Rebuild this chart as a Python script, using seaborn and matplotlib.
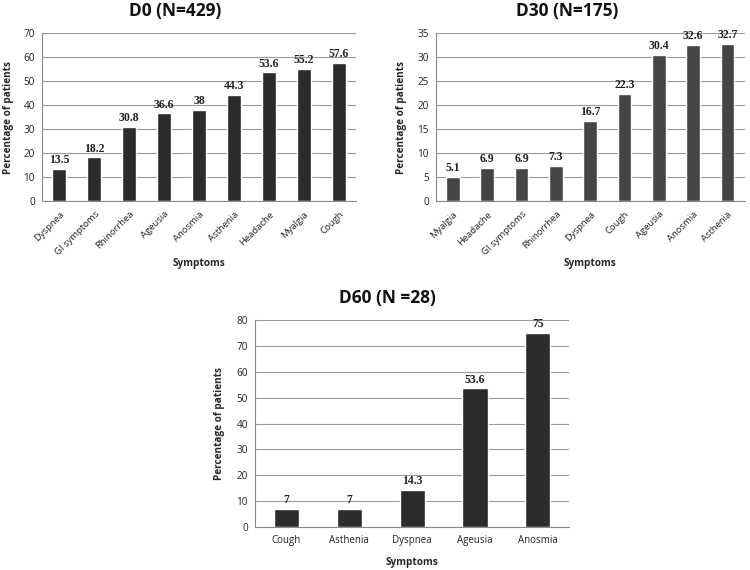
import matplotlib
matplotlib.use("Agg")
import matplotlib.pyplot as plt
import seaborn as sns
import numpy as np

# data
d0_symptoms = ["Dyspnea", "GI symptoms", "Rhinorrhea", "Ageusia", "Anosmia",
               "Asthenia", "Headache", "Myalgia", "Cough"]
d0_values = [13.5, 18.2, 30.8, 36.6, 38, 44.3, 53.6, 55.2, 57.6]

d30_symptoms = ["Myalgia", "Headache", "GI symptoms", "Rhinorrhea", "Dyspnea",
                "Cough", "Ageusia", "Anosmia", "Asthenia"]
d30_values = [5.1, 6.9, 6.9, 7.3, 16.7, 22.3, 30.4, 32.6, 32.7]

d60_symptoms = ["Cough", "Asthenia", "Dyspnea", "Ageusia", "Anosmia"]
d60_values = [7, 7, 14.3, 53.6, 75]

sns.set_style("white")
plt.rcParams['font.family'] = ['Open Sans', 'DejaVu Sans']

fig = plt.figure(figsize=(7.5, 5.7), dpi=100)


def draw_panel(rect, cats, vals, ymax, ystep, color, title, title_xy,
               ylab_x, xlab_y, rotate):
    ax = fig.add_axes(rect)
    sns.barplot(x=cats, y=vals, color=color, width=0.4, saturation=1, ax=ax)
    ax.set_xlim(-0.5, len(cats) - 0.5)
    ax.set_ylim(0, ymax)
    ax.set_yticks(np.arange(0, ymax + 0.1, ystep))
    ax.yaxis.grid(True, color="#9a9a9a", linewidth=0.8)
    ax.set_axisbelow(True)
    for s in ["top", "right"]:
        ax.spines[s].set_visible(False)
    for s in ["left", "bottom"]:
        ax.spines[s].set_color("#8a8a8a")
        ax.spines[s].set_linewidth(0.8)

    # excel-like tick marks between categories
    ax.set_xticks(np.arange(-0.5, len(cats), 1.0), minor=True)
    ax.tick_params(axis="x", which="minor", length=4, color="#8a8a8a", width=0.8)
    ax.tick_params(axis="x", which="major", length=0, labelsize=6.8 if rotate else 7,
                   labelcolor="#222222", pad=6)
    ax.tick_params(axis="y", length=3, color="#8a8a8a", width=0.8,
                   labelsize=7.2, labelcolor="#222222", pad=2)
    if rotate:
        plt.setp(ax.get_xticklabels(), rotation=45, ha="right",
                 rotation_mode="anchor")

    labels = ["{:g}".format(v) for v in vals]
    ax.bar_label(ax.containers[0], labels=labels, padding=2,
                 fontsize=8.5, fontweight="bold", family="Liberation Serif",
                 color="#222222")

    ax.set_ylabel("Percentage of patients", fontsize=7.2, fontweight="bold")
    ax.set_xlabel("Symptoms", fontsize=7.2, fontweight="bold")
    ax.yaxis.set_label_coords(ylab_x, 0.5)
    ax.xaxis.set_label_coords(0.5, xlab_y)

    fig.text(title_xy[0], title_xy[1], title, ha="center", va="center",
             fontsize=12.5, fontweight="bold", color="#111111")
    return ax


draw_panel([0.056, 0.647, 0.419, 0.295], d0_symptoms, d0_values, 70, 10,
           "#2b2b2b", "D0 (N=429)", (0.233, 1 - 11 / 570), -0.088, -0.34, True)
draw_panel([0.581, 0.647, 0.412, 0.295], d30_symptoms, d30_values, 35, 5,
           "#454545", "D30 (N=175)", (0.756, 1 - 11 / 570), -0.094, -0.34, True)
draw_panel([0.34, 0.0754, 0.419, 0.363], d60_symptoms, d60_values, 80, 10,
           "#2b2b2b", "D60 (N =28)", (0.517, 1 - 298 / 570), -0.096, -0.145, False)

plt.savefig("out.png", dpi=100)
